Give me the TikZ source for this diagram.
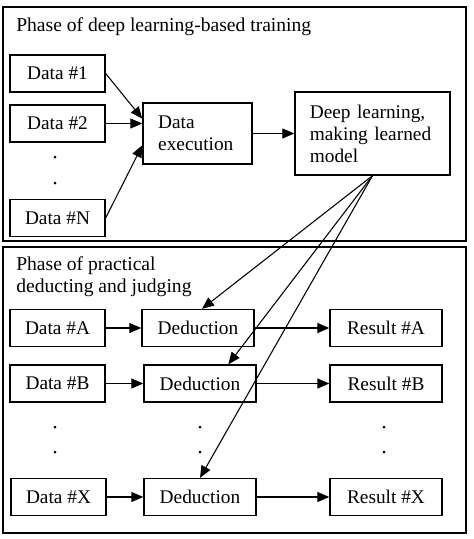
\documentclass[tikz,border=0pt]{standalone}
\usepackage{fontspec}
\setmainfont{Liberation Serif}
\usetikzlibrary{arrows.meta}
\usetikzlibrary{calc}
\tikzstyle{panel}=[draw, line width=1.4pt]
\tikzstyle{block}=[draw, line width=1pt, inner sep=0, font=\fontsize{14.5}{16.5}\selectfont]
\tikzstyle{small block}=[block, minimum width=71.25pt, minimum height=27.75pt]
\tikzstyle{wide block}=[block, minimum width=84pt, minimum height=27.75pt]
\tikzstyle{label}=[font=\fontsize{14.7}{16.5}\selectfont, inner sep=0, align=left]
\tikzstyle{flow}=[line width=0.8pt, -{Triangle[length=9pt, width=7.5pt]}]
\tikzstyle{dot}=[fill, radius=1.5]

\begin{document}
\begin{tikzpicture}[x=0.75pt, y=-0.75pt]
      \useasboundingbox (0, 0) rectangle (474, 539);

      \draw[panel] (3, 7) rectangle (466, 241);
      \draw[panel] (3, 247) rectangle (466, 533);

      \node[label, anchor=west] (title_train) at (16, 27) {Phase of deep learning-based training};
      \node[label, anchor=north west] (title_deduce) at (16, 256) {Phase of practical\\deducting and judging};

      \node[small block] (data_1) at (57.5, 73.5) {Data \#1};
      \node[small block] (data_2) at (57.5, 123.5) {Data \#2};
      \node[small block] (data_n) at (57.5, 218) {Data \#N};
      \fill[dot] (55, 157) circle;
      \fill[dot] (55, 183) circle;

      \node[block, minimum width=81.75pt, minimum height=45.75pt, align=left, text width=59pt] (data_exec) at (197.5, 133.5) {Data\\execution};
      \node[block, minimum width=116.25pt, minimum height=62.25pt, align=left, text width=94pt] (deep) at (372.5, 133.5) {Deep learning,\\making learned\\model};

      \draw[flow] (data_1.east) -- (data_exec.165);
      \draw[flow] (data_2.east) -- (data_2.east -| data_exec.west);
      \draw[flow] (data_n.east) -- (data_exec.192);
      \draw[flow] (data_exec.east) -- (deep.west);

      \node[small block] (data_a) at (57.5, 328) {Data \#A};
      \node[wide block] (ded_a) at (198, 328) {Deduction};
      \node[wide block] (res_a) at (386, 328) {Result \#A};

      \node[small block] (data_b) at (57.5, 383.5) {Data \#B};
      \node[wide block] (ded_b) at (200, 383.5) {Deduction};
      \node[wide block] (res_b) at (386, 383.5) {Result \#B};

      \fill[dot] (55, 427) circle;
      \fill[dot] (55, 452) circle;
      \fill[dot] (200, 427) circle;
      \fill[dot] (200, 452) circle;
      \fill[dot] (384, 427) circle;
      \fill[dot] (384, 452) circle;

      \node[small block] (data_x) at (58.5, 497) {Data \#X};
      \node[wide block] (ded_x) at (200, 497) {Deduction};
      \node[wide block] (res_x) at (386, 497) {Result \#X};

      \foreach \row in {a, b, x} {
        \draw[flow] (data_\row.east) -- (ded_\row.west);
        \draw[flow] (ded_\row.east) -- (res_\row.west);
      }

      \draw[flow] (deep.south) -- ($(ded_a.north)+(4, 0)$);
      \draw[flow] (deep.south) -- ($(ded_b.north)!0.5!(ded_b.north east)$);
      \draw[flow] (deep.south) -- (ded_x.north);
    \end{tikzpicture}
\end{document}
